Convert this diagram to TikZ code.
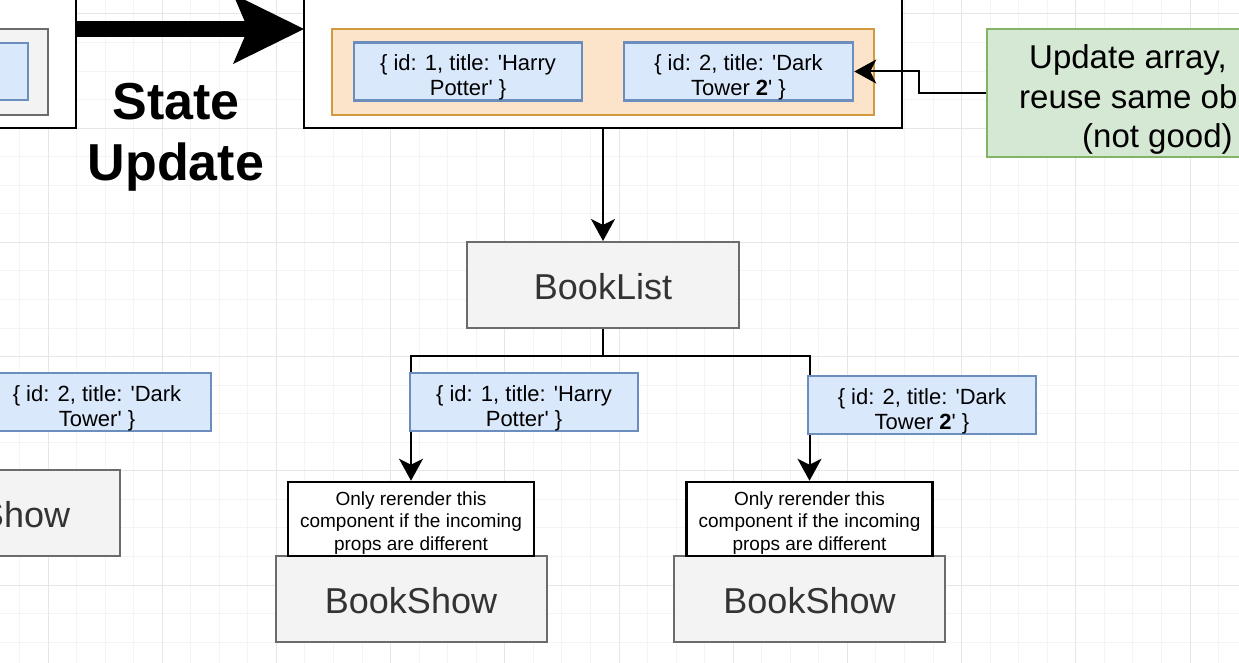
\documentclass[tikz,border=0pt]{standalone}
\usepackage{fontspec}
\setmainfont{Liberation Sans}
\usetikzlibrary{arrows.meta}
\definecolor{objfill}{HTML}{DAE8FC}
\definecolor{objline}{HTML}{6C8EBF}
\definecolor{listfill}{HTML}{FCE4CB}
\definecolor{listline}{HTML}{D29A3A}
\definecolor{notefill}{HTML}{D5E8D4}
\definecolor{noteline}{HTML}{82B366}
\definecolor{compfill}{HTML}{F3F3F3}
\definecolor{compline}{HTML}{6B6B6B}
\definecolor{comptext}{HTML}{333333}
\definecolor{gridmajor}{HTML}{E6E6E6}
\definecolor{gridminor}{HTML}{F4F4F4}
\newcommand{\sq}{\textquotesingle}
\newcommand{\lift}[1]{\rule{0pt}{#1}}
\tikzset{
  comp/.style = {draw = compline, fill = compfill, line width = 2pt, text = comptext,
    font = \fontsize{36}{40}\selectfont, minimum width = 271pt, minimum height = 86pt, inner sep = 0pt},
  obj/.style = {draw = objline, fill = objfill, line width = 2.5pt, align = center,
    font = \fontsize{22}{25}\selectfont, minimum width = 228pt, minimum height = 57pt, inner sep = 0pt},
  hint/.style = {draw, fill = white, line width = 2.5pt, align = center,
    font = \fontsize{19}{22.5}\selectfont, minimum width = 246pt, minimum height = 74pt, inner sep = 0pt},
  holder/.style = {draw, fill = white, line width = 2.5pt, inner sep = 0pt},
  notetext/.style = {anchor = base west, inner sep = 0pt, font = \fontsize{33}{40}\selectfont},
  link/.style = {line width = 2pt, -{Stealth[length = 22pt, width = 24pt, inset = 6pt]}}
}
\begin{document}
\begin{tikzpicture}[x = 1pt, y = -1pt]
\useasboundingbox (0,0) rectangle (1239,663);
\clip (0,0) rectangle (1239,663);
\fill[white] (0,0) rectangle (1239,663);
\foreach \i in {0,...,46} \draw[gridminor, line width = 1pt] ({-66.2+28.55*\i},0) -- ++(0,663);
\foreach \i in {0,...,25} \draw[gridminor, line width = 1pt] (0,{-14.55+28.55*\i}) -- ++(1239,0);
\foreach \i in {0,...,11} \draw[gridmajor, line width = 1pt] ({-66.2+114.2*\i},0) -- ++(0,663);
\foreach \i in {0,...,6} \draw[gridmajor, line width = 1pt] (0,{14+114.2*\i}) -- ++(1239,0);

\node[holder, minimum width = 252pt, minimum height = 176pt] (oldstate) at (-50,40) {};
\node[comp, minimum width = 272pt] (oldcomp) at (-88,72) {};
\node[obj] (oldobj) at (-86,71.5) {};

\draw[line width = 16pt, -{Stealth[length = 71pt, width = 70pt, inset = 15pt, line width = 0pt]}]
  (oldstate.east |- 0,29) -- (304,29) coordinate (statein);
\node[font = \bfseries\fontsize{52}{61}\selectfont, align = center, anchor = north, inner sep = 0pt]
  (statelbl) at (176,83) {State\\Update};

\node[holder, minimum width = 598pt, minimum height = 158pt] (state) at (603,49) {};
\node[draw = listline, fill = listfill, line width = 2.5pt, minimum width = 542pt, minimum height = 86pt]
  (books) at (603,72) {};
\node[obj] (newone) at (468,71.5) {\lift{28pt}\{ id: 1, title: \sq Harry\\Potter\sq\ \}};
\node[obj, minimum width = 229pt] (newtwo) at (738.5,71.5) {\lift{28pt}\{ id: 2, title: \sq Dark\\Tower \textbf{2}\sq\ \}};

\node[draw = noteline, fill = notefill, line width = 2.5pt, minimum width = 342pt, minimum height = 128pt]
  (gnote) at (1158,93) {};
\node[notetext] (gline1) at (1029,69) {Update array,};
\node[notetext] (gline2) at (1019,108.5) {reuse same ob};
\node[notetext] (gline3) at (1082,148) {(not good)};
\draw[link] (gnote.west) -- ++(-67,0) |- (newtwo.east);

\node[comp, minimum width = 272pt] (booklist) at (603,285) {\lift{30pt}BookList};
\draw[link] (state.south) -- (booklist.north);

\node[comp] (showone) at (411,598.5) {\lift{30pt}BookShow};
\node[comp] (showtwo) at (809.5,598.5) {\lift{30pt}BookShow};
\node[hint] (hintone) at (411,519) {\lift{21pt}Only rerender this\\component if the incoming\\props are different};
\node[hint] (hinttwo) at (809.5,519) {\lift{21pt}Only rerender this\\component if the incoming\\props are different};
\coordinate (split) at (603,356);
\draw[link] (booklist.south) -- (split) -| (hintone.north);
\draw[link] (split) -| (hinttwo.north);

\node[obj, minimum height = 58pt] (propone) at (524,402) {\lift{28pt}\{ id: 1, title: \sq Harry\\Potter\sq\ \}};
\node[obj, minimum height = 58pt] (proptwo) at (922,405) {\lift{28pt}\{ id: 2, title: \sq Dark\\Tower \textbf{2}\sq\ \}};

\node[obj, minimum height = 58pt] (prevobj) at (97,402) {\lift{28pt}\{ id: 2, title: \sq Dark\\Tower\sq\ \}};
\node[comp] (prevshow) at (-16,513) {\lift{30pt}BookShow};
\end{tikzpicture}
\end{document}
